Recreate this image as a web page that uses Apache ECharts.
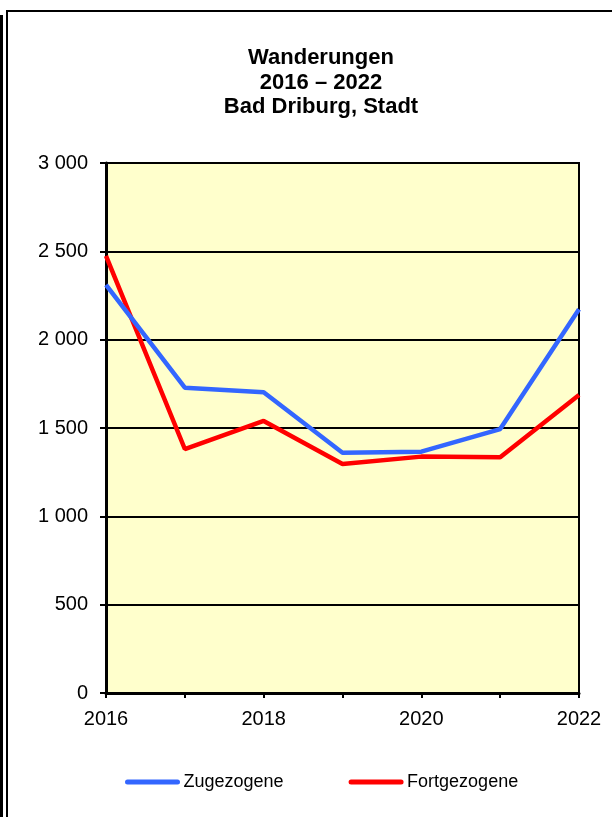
<html>
<head>
    <meta charset='utf-8'>
    <script src='https://cdn.jsdelivr.net/npm/echarts@6/dist/echarts.min.js'></script>
    <style>
        html, body, #main {
            width: 100%;
            height: 100%;
            margin: 0;
            background: #fff;
        }
    </style>
</head>
<body>
<div id='main'></div>
<script>
    var years = ['2016', '2017', '2018', '2019', '2020', '2021', '2022'];
    var zugezogene = [2310, 1728, 1702, 1360, 1366, 1494, 2172];
    var fortgezogene = [2474, 1381, 1540, 1296, 1338, 1334, 1687];
    var titleLines = ['Wanderungen', '2016 \u2013 2022', 'Bad Driburg, Stadt'];

    var fmt = function (v) {
        return String(v).replace(/\B(?=(\d{3})+(?!\d))/g, ' ');
    };
    // capsule shaped legend icon
    var capsule = 'path://M2.5,0 L52.5,0 A2.5,2.5 0 0 1 52.5,5 L2.5,5 A2.5,2.5 0 0 1 2.5,0 Z';

    var myChart = echarts.init(document.getElementById('main'));
    myChart.setOption({
        animation: false,
        backgroundColor: '#fff',
        textStyle: { fontFamily: 'Liberation Sans, Arial, sans-serif' },
        graphic: [
            {
                type: 'rect',
                shape: { x: 7, y: 11, width: 700, height: 900 },
                style: { fill: 'none', stroke: '#000', lineWidth: 2 }
            },
            {
                type: 'rect',
                shape: { x: 0, y: 15, width: 3, height: 810 },
                style: { fill: '#000' }
            },
            {
                type: 'text',
                x: 321,
                y: 46,
                style: {
                    text: titleLines.join('\n'),
                    align: 'center',
                    fontSize: 22,
                    fontWeight: 'bold',
                    fontFamily: 'Liberation Sans, Arial, sans-serif',
                    lineHeight: 24.5,
                    fill: '#000'
                }
            }
        ],
        legend: {
            left: 125,
            top: 773,
            padding: 0,
            icon: capsule,
            itemWidth: 56,
            itemHeight: 5,
            itemGap: 65,
            textStyle: { fontSize: 18, color: '#000', padding: [0, 0, 0, -2] },
            data: ['Zugezogene', 'Fortgezogene']
        },
        grid: {
            left: 106,
            right: 33,
            top: 163,
            bottom: 124,
            show: true,
            backgroundColor: '#FFFFCC',
            borderColor: '#000',
            borderWidth: 2
        },
        xAxis: {
            type: 'category',
            data: years,
            boundaryGap: false,
            axisLine: { lineStyle: { color: '#000', width: 3 } },
            axisTick: { show: true, interval: 0, length: 5, lineStyle: { color: '#000', width: 2 } },
            axisLabel: { interval: 1, color: '#000', fontSize: 20, margin: 16 },
            splitLine: { show: false }
        },
        yAxis: {
            type: 'value',
            min: 0,
            max: 3000,
            interval: 500,
            axisLine: { show: true, lineStyle: { color: '#000', width: 3 } },
            axisTick: { show: true, length: 6, lineStyle: { color: '#000', width: 2 } },
            axisLabel: { color: '#000', fontSize: 20, margin: 18, formatter: fmt },
            splitLine: { show: true, lineStyle: { color: '#000', width: 2 } }
        },
        series: [
            {
                name: 'Zugezogene',
                type: 'line',
                data: zugezogene,
                symbol: 'none',
                lineStyle: { color: '#3366FF', width: 4.5 },
                itemStyle: { color: '#3366FF' },
                z: 3
            },
            {
                name: 'Fortgezogene',
                type: 'line',
                data: fortgezogene,
                symbol: 'none',
                lineStyle: { color: '#FF0000', width: 4.5 },
                itemStyle: { color: '#FF0000' },
                z: 2
            }
        ]
    });
</script>
</body>
</html>
